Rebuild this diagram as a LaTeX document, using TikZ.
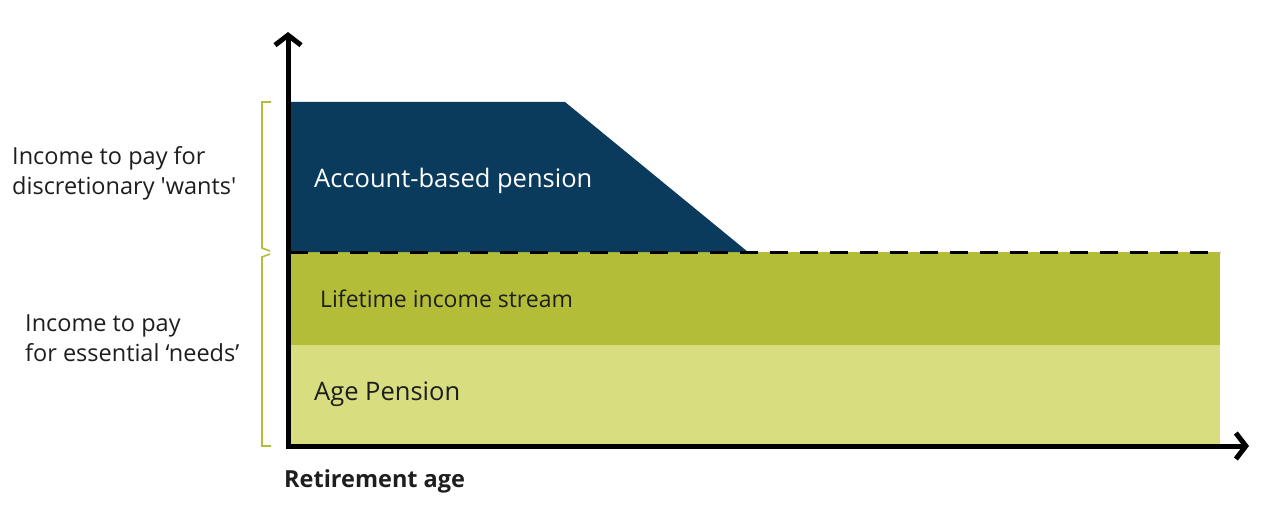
\documentclass[tikz,border=0pt]{standalone}
\usepackage{fontspec}
\setmainfont{Open Sans}[Ligatures=TeXOff]
\usetikzlibrary{arrows.meta}
\definecolor{navy}{HTML}{0A3B5C}
\definecolor{olive}{HTML}{B4BD38}
\definecolor{pale}{HTML}{D8DD80}
\definecolor{txt}{HTML}{1E1E1E}
\tikzset{
  band/.style={anchor=north west, inner sep=0pt, outer sep=0pt, draw=none},
  lbl/.style={anchor=west, inner sep=0pt, text=txt},
  side/.style={anchor=north west, inner sep=0pt, text=txt, align=left, font=\fontsize{23.5}{30}\selectfont},
  brk/.style={draw=olive, line width=1.6pt},
  axis/.style={line width=5pt, -{Straight Barb[length=10pt, width=26pt, line width=5pt]}},
}
\begin{document}
\begin{tikzpicture}[x=1pt, y=-1pt]
\path[use as bounding box] (0,0) rectangle (1276,513);
% bands
\node[band, fill=pale, minimum width=930pt, minimum height=100pt] (age) at (290,345) {};
\node[band, fill=olive, minimum width=930pt, minimum height=93pt] (life) at (290,252) {};
\fill[navy] (290,102) coordinate (ta) -- (565,102) coordinate (tb) -- (748,252) coordinate (tc) -- (290,252) coordinate (td) -- cycle;
\draw[line width=3pt, dash pattern=on 18pt off 12pt] (td) -- (life.north east);
% labels
\node[lbl, text=white, font=\fontsize{25.5}{30}\selectfont] (abp) at (314,181) {Account-based pension};
\node[lbl, font=\fontsize{23}{27}\selectfont] (lis) at (320,299) {Lifetime income stream};
\node[lbl, font=\fontsize{25.5}{30}\selectfont] (ap) at (314,394) {Age Pension};
\node[lbl, font=\bfseries\fontsize{23.5}{28}\selectfont] (ra) at (284,481) {Retirement age};
% axes
\coordinate (o) at (288,446);
\coordinate (ytop) at (288,32);
\coordinate (xend) at (1249,446);
\draw[axis] (288,448.5) -- (ytop);
\draw[axis] (285.5,446) -- (xend);
% brackets
\draw[brk] (271,102) -- (262,102) -- (262,248) -- (270,251);
\draw[brk] (270,254) -- (262,257) -- (262,446) -- (271,446);
% side texts
\node[side] (wants) at (12,146) {Income to pay for\\discretionary 'wants'};
\node[side] (needs) at (25,315) {Income to pay\\for essential ‘needs’};
\end{tikzpicture}
\end{document}
